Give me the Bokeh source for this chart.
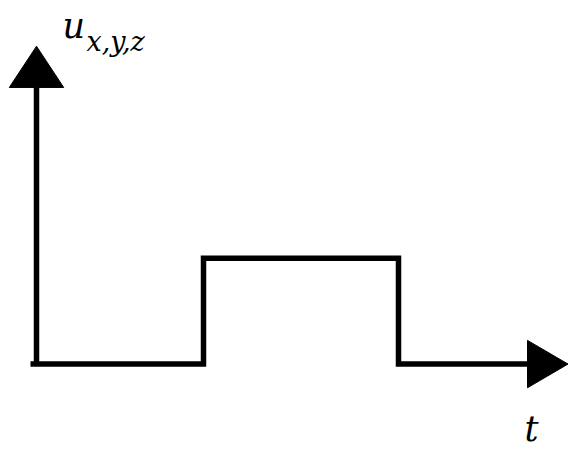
from bokeh.plotting import figure
from bokeh.models import Range1d
from bokeh.embed import file_html
from bokeh.resources import INLINE
from bokeh.core.properties import value

# Rectangular pulse u(t) on the time axis
pulse_t = [-0.06, 1.67, 1.67, 3.62, 3.62, 4.91]
pulse_u = [0, 0, 1, 1, 0, 0]

# Axis extents (data units)
t_axis_end = 4.91
u_axis_end = 2.615
arrow_len_t = 0.405
arrow_half_u = 0.224
arrow_len_u = 0.39
arrow_half_t = 0.272

# Labels
u_label = "u"
u_sub = "x,y,z"
t_label = "t"

p = figure(width=568, height=450, output_backend="svg", toolbar_location=None,
           x_range=Range1d(-0.36, 5.32), y_range=Range1d(-0.817, 3.437),
           x_axis_type=None, y_axis_type=None, min_border=0)
p.grid.visible = False
p.outline_line_color = None
p.background_fill_color = "white"
p.border_fill_color = "white"

# vertical axis
p.line([0, 0], [0, u_axis_end], line_color="black", line_width=5.5)
p.patch([-arrow_half_t, arrow_half_t, 0], [u_axis_end, u_axis_end, u_axis_end + arrow_len_u],
        fill_color="black", line_color="black", line_width=1)

# pulse with baseline (time axis)
p.line(pulse_t, pulse_u, line_color="black", line_width=5.5, line_join="miter")
p.patch([t_axis_end, t_axis_end, t_axis_end + arrow_len_t], [-arrow_half_u, arrow_half_u, 0],
        fill_color="black", line_color="black", line_width=1)

# labels
p.text(x=[0.26], y=[3.20], text=[u_label], text_font=value("DejaVu Serif"),
       text_font_style="italic", text_font_size="35px", text_color="black",
       text_baseline="alphabetic", text_align="left")
p.text(x=[0.50], y=[3.05], text=[u_sub], text_font=value("DejaVu Serif"),
       text_font_style="italic", text_font_size="27px", text_color="black",
       text_baseline="alphabetic", text_align="left")
p.text(x=[4.88], y=[-0.80], text=[t_label], text_font=value("DejaVu Serif"),
       text_font_style="italic", text_font_size="35px", text_color="black",
       text_baseline="bottom", text_align="left")

open("out.html", "w").write(file_html(p, INLINE))
